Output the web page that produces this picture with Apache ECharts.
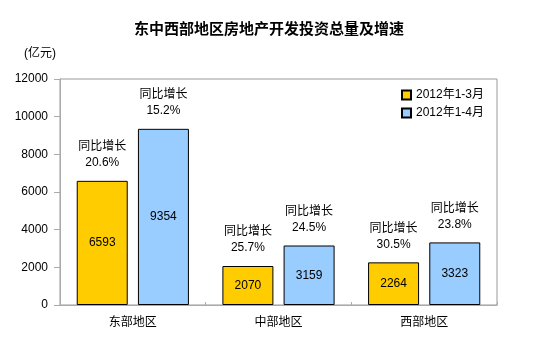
<!DOCTYPE html>
<html><head><meta charset="utf-8">
<script src="https://cdn.jsdelivr.net/npm/echarts@6/dist/echarts.min.js"></script>
<style>html,body{margin:0;padding:0;background:#fff}#c{width:554px;height:346px}</style>
</head><body><div id="c"></div>
<script>
const categories = ['东部地区', '中部地区', '西部地区'];
const seriesNames = ['2012年1-3月', '2012年1-4月'];
const valuesQ1 = [6593, 2070, 2264];
const valuesApr = [9354, 3159, 3323];
const growthQ1 = ['20.6%', '25.7%', '30.5%'];
const growthApr = ['15.2%', '24.5%', '23.8%'];
const yTicks = [0, 2000, 4000, 6000, 8000, 10000, 12000];

const FONT = '"Liberation Sans", "Noto Sans CJK SC", sans-serif';
const chart = echarts.init(document.getElementById('c'));
function topSeries(stack, growth) {
  return {
    type: 'bar', stack: stack, data: growth.map(() => 0), barWidth: 51,
    itemStyle: { color: 'transparent', borderWidth: 0 },
    label: { show: true, position: 'top', distance: 10, color: '#000', fontSize: 12,
      fontFamily: FONT, lineHeight: 16,
      formatter: p => '同比增长\n' + growth[p.dataIndex] },
    silent: true, legendHoverLink: false
  };
}
chart.setOption({
  animation: false,
  textStyle: { fontFamily: FONT },
  title: [{ text: '东中西部地区房地产开发投资总量及增速', left: 264, textAlign: 'center', top: 17,
    textStyle: { fontSize: 15, fontWeight: 'bold', color: '#000', fontFamily: FONT } },
    { text: '(亿元)', left: 19, top: 43, textStyle: { fontSize: 12, fontWeight: 'normal', color: '#000', fontFamily: FONT } }],
  legend: { data: seriesNames, orient: 'vertical', left: 396, top: 84, itemWidth: 9, itemHeight: 9,
    itemGap: 6, icon: 'rect', textStyle: { fontSize: 12, color: '#000', fontFamily: FONT } },
  grid: { left: 60, right: 57, top: 79, bottom: 41, show: true, borderColor: '#999', borderWidth: 1 },
  xAxis: { type: 'category', data: categories,
    axisLine: { lineStyle: { color: '#aaa' } },
    axisTick: { show: true, inside: true, length: 3, lineStyle: { color: '#aaa' } },
    axisLabel: { color: '#000', fontSize: 12, margin: 12, fontFamily: FONT } },
  yAxis: { type: 'value', min: 0, max: 12000, interval: 2000,
    axisLine: { show: true, lineStyle: { color: '#aaa' } },
    axisTick: { show: true, length: 6, lineStyle: { color: '#aaa' } },
    splitLine: { show: false },
    axisLabel: { color: '#000', fontSize: 12, margin: 12, fontFamily: FONT,
      formatter: v => yTicks.includes(v) ? String(v) : '' } },
  series: [
    { name: seriesNames[0], type: 'bar', stack: 'a', data: valuesQ1, barWidth: 51, barGap: '20%',
      itemStyle: { color: '#FFCC00', borderColor: '#000', borderWidth: 1 },
      label: { show: true, position: 'inside', color: '#000', fontSize: 12, fontFamily: FONT } },
    topSeries('a', growthQ1),
    { name: seriesNames[1], type: 'bar', stack: 'b', data: valuesApr, barWidth: 51,
      itemStyle: { color: '#99CCFF', borderColor: '#000', borderWidth: 1 },
      label: { show: true, position: 'inside', color: '#000', fontSize: 12, fontFamily: FONT } },
    topSeries('b', growthApr)
  ]
});
</script></body></html>
